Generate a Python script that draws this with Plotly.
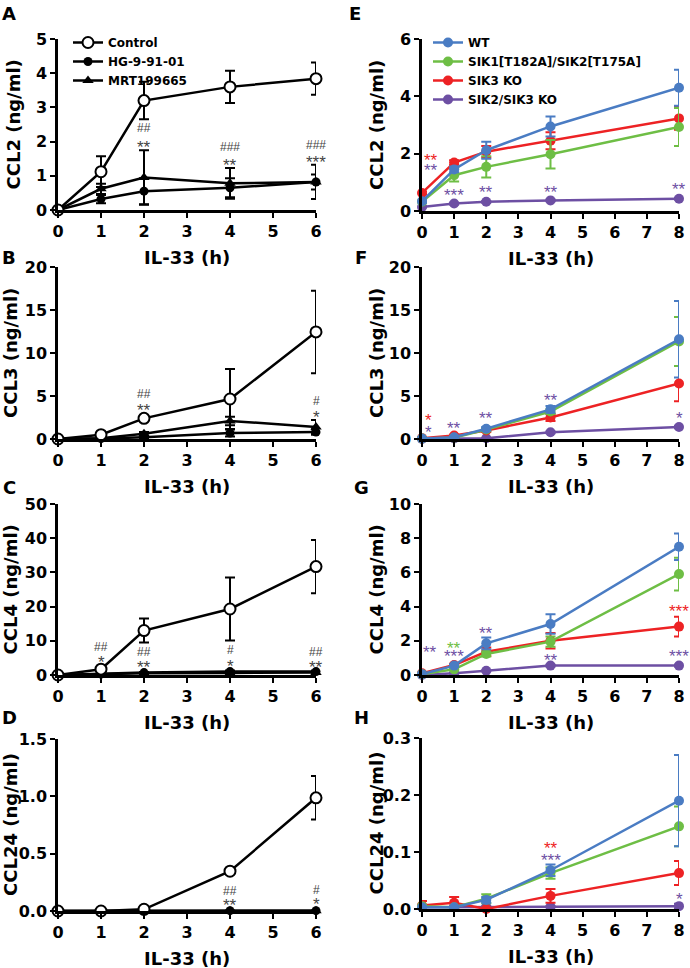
import plotly.graph_objects as go

# time points (h)
hours_left = [0, 1, 2, 4, 6]
hours_right = [0, 1, 2, 4, 8]

# left column: Control / HG-9-91-01 / MRT199665
ccl2_ctrl = [0.0, 1.12, 3.2, 3.6, 3.84]
ccl2_ctrl_err = [0.0, 0.45, 0.55, 0.47, 0.47]
ccl2_hg = [0.0, 0.32, 0.55, 0.65, 0.82]
ccl2_hg_err = [0.0, 0.12, 0.38, 0.28, 0.5]
ccl2_mrt = [0.0, 0.62, 0.95, 0.78, 0.82]
ccl2_mrt_err = [0.0, 0.15, 0.8, 0.45, 0.22]

ccl3_ctrl = [0.0, 0.5, 2.4, 4.65, 12.45]
ccl3_ctrl_err = [0.0, 0.2, 0.3, 3.5, 4.8]
ccl3_hg = [0.0, 0.05, 0.2, 0.7, 0.8]
ccl3_hg_err = [0.0, 0.05, 0.1, 0.4, 0.3]
ccl3_mrt = [0.0, 0.1, 0.6, 2.1, 1.4]
ccl3_mrt_err = [0.0, 0.05, 0.2, 0.5, 0.8]

ccl4_ctrl = [0.0, 1.7, 13.0, 19.3, 31.7]
ccl4_ctrl_err = [0.0, 0.5, 3.5, 9.2, 7.8]
ccl4_hg = [0.0, 0.3, 0.7, 1.0, 1.0]
ccl4_hg_err = [0.0, 0.1, 0.2, 0.3, 0.3]
ccl4_mrt = [0.0, 0.2, 0.5, 0.6, 0.7]
ccl4_mrt_err = [0.0, 0.1, 0.2, 0.2, 0.2]

ccl24_ctrl = [0.0, 0.0, 0.015, 0.347, 0.987]
ccl24_ctrl_err = [0.0, 0.0, 0.01, 0.01, 0.19]
ccl24_hg = [0.0, 0.0, 0.0, 0.003, 0.003]
ccl24_mrt = [0.0, 0.0, 0.0, 0.002, 0.002]

# right column: WT / SIK1[T182A]/SIK2[T175A] / SIK3 KO / SIK2/SIK3 KO
e_wt = [0.34, 1.45, 2.12, 2.95, 4.3]
e_wt_err = [0.05, 0.1, 0.3, 0.35, 0.63]
e_kin = [0.32, 1.25, 1.54, 1.98, 2.93]
e_kin_err = [0.05, 0.22, 0.37, 0.5, 0.66]
e_sik3 = [0.63, 1.69, 2.07, 2.45, 3.23]
e_sik3_err = [0.05, 0.08, 0.2, 0.3, 0.4]
e_dko = [0.14, 0.26, 0.32, 0.37, 0.43]
e_dko_err = [0.02, 0.03, 0.03, 0.03, 0.03]

f_wt = [0.05, 0.2, 1.2, 3.45, 11.6]
f_wt_err = [0.02, 0.1, 0.2, 0.4, 4.45]
f_kin = [0.05, 0.15, 1.1, 3.2, 11.35]
f_kin_err = [0.02, 0.1, 0.2, 0.3, 2.85]
f_sik3 = [0.1, 0.4, 1.0, 2.5, 6.45]
f_sik3_err = [0.05, 0.1, 0.2, 0.4, 2.05]
f_dko = [0.0, 0.05, 0.08, 0.78, 1.4]
f_dko_err = [0.0, 0.02, 0.03, 0.1, 0.15]

g_wt = [0.05, 0.55, 1.85, 2.98, 7.5]
g_wt_err = [0.02, 0.08, 0.35, 0.57, 0.78]
g_kin = [0.05, 0.33, 1.23, 1.95, 5.9]
g_kin_err = [0.02, 0.05, 0.15, 0.3, 0.96]
g_sik3 = [0.1, 0.58, 1.36, 2.0, 2.83]
g_sik3_err = [0.03, 0.08, 0.25, 0.45, 0.58]
g_dko = [0.0, 0.1, 0.25, 0.55, 0.55]
g_dko_err = [0.0, 0.02, 0.03, 0.05, 0.05]

h_wt = [0.003, 0.003, 0.016, 0.068, 0.19]
h_wt_err = [0.002, 0.002, 0.005, 0.01, 0.08]
h_kin = [0.005, 0.003, 0.018, 0.063, 0.145]
h_kin_err = [0.002, 0.002, 0.008, 0.01, 0.035]
h_sik3 = [0.006, 0.011, 0.0, 0.023, 0.063]
h_sik3_err = [0.008, 0.01, 0.002, 0.012, 0.021]
h_dko = [0.003, 0.003, 0.004, 0.004, 0.005]
h_dko_err = [0.001, 0.001, 0.001, 0.001, 0.004]

left_names = ["Control", "HG-9-91-01", "MRT199665"]
right_names = ["WT", "SIK1[T182A]/SIK2[T175A]", "SIK3 KO", "SIK2/SIK3 KO"]
right_colors = ["#4A7CC3", "#6EBE45", "#ED2224", "#6D4FA3"]

y_titles = ["CCL2 (ng/ml)", "CCL3 (ng/ml)", "CCL4 (ng/ml)", "CCL24 (ng/ml)"]
letters_left = ["A", "B", "C", "D"]
letters_right = ["E", "F", "G", "H"]

# significance marks: (x, y, text[, colour index])
marks_a = [(2, 2.4, "##"), (2, 1.95, "**"), (4, 1.85, "###"), (4, 1.42, "**"),
           (6, 1.9, "###"), (6, 1.52, "***")]
marks_b = [(2, 5.2, "##"), (2, 3.8, "**"), (6, 4.4, "#"), (6, 3.0, "*")]
marks_c = [(1, 8.3, "##"), (1, 4.8, "*"), (2, 6.8, "##"), (2, 3.5, "**"),
           (4, 7.3, "#"), (4, 3.8, "*"), (6, 6.8, "##"), (6, 3.5, "**")]
marks_d = [(4, 0.175, "##"), (4, 0.085, "**"), (6, 0.186, "#"), (6, 0.09, "*")]

marks_e = [(0.27, 1.89, "**", 2), (0.27, 1.54, "**", 3), (1, 0.67, "***", 3),
           (2, 0.78, "**", 3), (4, 0.78, "**", 3), (8, 0.9, "**", 3)]
marks_f = [(0.2, 2.6, "*", 2), (0.2, 1.2, "*", 3), (1, 1.67, "**", 3),
           (2, 2.9, "**", 3), (4, 5.0, "**", 3), (8, 2.9, "*", 3)]
marks_g = [(0.25, 1.56, "**", 3), (1, 1.79, "**", 1), (1, 1.31, "***", 3),
           (2, 2.69, "**", 3), (4, 1.07, "**", 3), (8, 3.94, "***", 2),
           (8, 1.31, "***", 3)]
marks_h = [(4, 0.113, "**", 2), (4, 0.092, "***", 3), (8, 0.024, "*", 3)]

W, H = 690, 968
FONT = "DejaVu Sans"

# pixel geometry of the panels
left_x = (58, 316)
right_x = (422, 679)
rows_y = [(39, 210), (267, 439), (504, 675), (739, 911)]
rows_y_right = [(39, 211), (267, 439), (504, 675), (738, 909)]

fig = go.Figure()


def dom_x(px):
    return [px[0] / W, px[1] / W]


def dom_y(py):
    return [1 - py[1] / H, 1 - py[0] / H]


def axis_style(**kw):
    d = dict(showline=True, linecolor="black", linewidth=2.5, ticks="outside",
             ticklen=5, tickwidth=2, tickcolor="black", showgrid=False,
             zeroline=False, fixedrange=True, automargin=False,
             tickfont=dict(family=FONT, size=16, color="black", weight="bold"))
    d.update(kw)
    return d


def mark(mx, my, t, xa, ya, color):
    is_hash = "#" in t
    return dict(x=mx, y=my, xref=xa, yref=ya, text=t, showarrow=False,
                yshift=0 if is_hash else -4,
                font=dict(family="Liberation Sans", size=12 if is_hash else 17, color=color))


left_panels = [
    (ccl2_ctrl, ccl2_ctrl_err, ccl2_hg, ccl2_hg_err, ccl2_mrt, ccl2_mrt_err, [0, 5], 1, None, marks_a),
    (ccl3_ctrl, ccl3_ctrl_err, ccl3_hg, ccl3_hg_err, ccl3_mrt, ccl3_mrt_err, [0, 20], 5, None, marks_b),
    (ccl4_ctrl, ccl4_ctrl_err, ccl4_hg, ccl4_hg_err, ccl4_mrt, ccl4_mrt_err, [0, 50], 10, None, marks_c),
    (ccl24_ctrl, ccl24_ctrl_err, ccl24_hg, [0] * 5, ccl24_mrt, [0] * 5, [0, 1.5], 0.5, ".1f", marks_d),
]
right_panels = [
    ([e_wt, e_kin, e_sik3, e_dko], [e_wt_err, e_kin_err, e_sik3_err, e_dko_err], [0, 6], 2, None, marks_e),
    ([f_wt, f_kin, f_sik3, f_dko], [f_wt_err, f_kin_err, f_sik3_err, f_dko_err], [0, 20], 5, None, marks_f),
    ([g_wt, g_kin, g_sik3, g_dko], [g_wt_err, g_kin_err, g_sik3_err, g_dko_err], [0, 10], 2, None, marks_g),
    ([h_wt, h_kin, h_sik3, h_dko], [h_wt_err, h_kin_err, h_sik3_err, h_dko_err], [0, 0.3], 0.1, ".1f", marks_h),
]

layout = {}
annotations = []

left_markers = [
    dict(symbol="circle", size=11, color="white", line=dict(color="black", width=2)),
    dict(symbol="circle", size=9, color="black"),
    dict(symbol="triangle-up", size=10, color="black"),
]

title_font = dict(family=FONT, size=18, color="black", weight="bold")

for i, (c, ce, hg, hge, mrt, mrte, yr, dt, fmt, marks) in enumerate(left_panels):
    n = 2 * i + 1
    xa, ya = ("x", "y") if n == 1 else (f"x{n}", f"y{n}")
    series = [(mrt, mrte), (hg, hge), (c, ce)]
    order = [2, 1, 0]
    for (vals, errs), k in zip(series, order):
        fig.add_trace(go.Scatter(
            x=hours_left, y=vals, xaxis=xa, yaxis=ya, mode="lines+markers",
            name=left_names[k], legend="legend", showlegend=(i == 0),
            legendrank=k, cliponaxis=False,
            line=dict(color="black", width=2.5), marker=left_markers[k],
            error_y=dict(type="data", array=errs, color="black", thickness=2, width=5),
        ))
    layout["xaxis" if n == 1 else f"xaxis{n}"] = axis_style(
        domain=dom_x(left_x), range=[0, 6], tickvals=[0, 1, 2, 3, 4, 5, 6], anchor=ya)
    layout["yaxis" if n == 1 else f"yaxis{n}"] = axis_style(
        domain=dom_y(rows_y[i]), range=yr, dtick=dt, tick0=0, anchor=xa,
        tickformat=fmt)
    for mx, my, t in marks:
        annotations.append(mark(mx, my, t, xa, ya, "#444444"))
    annotations.append(dict(x=0.5, y=0, xref=f"{xa} domain", yref=f"{ya} domain", yshift=-47,
                            text="IL-33 (h)", showarrow=False, yanchor="middle", font=title_font))
    annotations.append(dict(x=(13 if i == 0 else 10) / W, y=0.5, xref="paper", yref=f"{ya} domain",
                            text=y_titles[i], textangle=-90, showarrow=False,
                            xanchor="center", yanchor="middle", font=title_font))
    letter_y = [13, 258, 487, 717][i]
    annotations.append(dict(x=9 / W, y=1 - letter_y / H, xref="paper", yref="paper",
                            text=letters_left[i], showarrow=False, xanchor="center", yanchor="middle",
                            font=title_font))

for i, (vals_list, err_list, yr, dt, fmt, marks) in enumerate(right_panels):
    n = 2 * i + 2
    xa, ya = f"x{n}", f"y{n}"
    for k in [3, 2, 1, 0]:
        fig.add_trace(go.Scatter(
            x=hours_right, y=vals_list[k], xaxis=xa, yaxis=ya, mode="lines+markers",
            name=right_names[k], legend="legend2", showlegend=(i == 0),
            legendrank=k, cliponaxis=False,
            line=dict(color=right_colors[k], width=2.5),
            marker=dict(symbol="circle", size=10, color=right_colors[k]),
            error_y=dict(type="data", array=err_list[k], color=right_colors[k], thickness=2, width=5),
        ))
    layout[f"xaxis{n}"] = axis_style(
        domain=dom_x(right_x), range=[0, 8], tickvals=list(range(9)), anchor=ya)
    layout[f"yaxis{n}"] = axis_style(
        domain=dom_y(rows_y_right[i]), range=yr, dtick=dt, tick0=0, anchor=xa,
        tickformat=fmt)
    for mx, my, t, ci in marks:
        annotations.append(mark(mx, my, t, xa, ya, right_colors[ci]))
    annotations.append(dict(x=0.5, y=0, xref=f"{xa} domain", yref=f"{ya} domain", yshift=-47,
                            text="IL-33 (h)", showarrow=False, yanchor="middle", font=title_font))
    annotations.append(dict(x=376 / W, y=0.5, xref="paper", yref=f"{ya} domain",
                            text=y_titles[i], textangle=-90, showarrow=False,
                            xanchor="center", yanchor="middle", font=title_font))
    letter_y = [13, 258, 487, 717][i]
    annotations.append(dict(x=(355 if i == 0 else 361) / W, y=1 - letter_y / H, xref="paper", yref="paper",
                            text=letters_right[i], showarrow=False, xanchor="center", yanchor="middle",
                            font=title_font))

legend_font = dict(family=FONT, size=12, color="black", weight="bold")
fig.update_layout(
    width=W, height=H, margin=dict(l=0, r=0, t=0, b=0, autoexpand=False),
    paper_bgcolor="white", plot_bgcolor="white",
    annotations=annotations,
    legend=dict(x=68 / W, y=1 - 28 / H, xanchor="left", yanchor="top", font=legend_font,
                bgcolor="rgba(0,0,0,0)", itemwidth=30, tracegroupgap=0),
    legend2=dict(x=428 / W, y=1 - 28 / H, xanchor="left", yanchor="top", font=legend_font,
                 bgcolor="rgba(0,0,0,0)", itemwidth=30, tracegroupgap=0),
    **layout,
)

# the page's default body margin would push the figure out of the window
fig.write_html("out.html", config={"displayModeBar": False},
               post_script="document.body.style.margin = '0';")
